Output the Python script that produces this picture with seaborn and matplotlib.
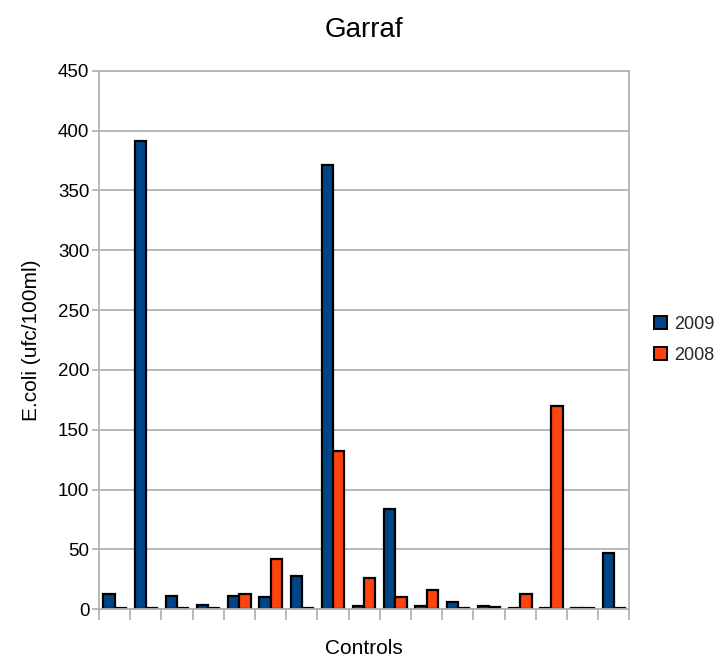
import matplotlib
matplotlib.use("Agg")
import matplotlib.pyplot as plt
import seaborn as sns
import pandas as pd
import numpy as np

categories = [str(i) for i in range(1, 18)]
values_2009 = [13, 391, 11, 4, 11, 10, 28, 371, 3, 84, 3, 6, 3, 1, 1, 1, 47]
values_2008 = [1, 1, 1, 1, 13, 42, 1, 132, 26, 10, 16, 1, 2, 13, 170, 1, 1]
series = ["2009", "2008"]
colors = ["#004586", "#ff420e"]
y_ticks = [0, 50, 100, 150, 200, 250, 300, 350, 400, 450]

df = pd.DataFrame({
    "Control": categories * 2,
    "Year": ["2009"] * len(categories) + ["2008"] * len(categories),
    "Value": values_2009 + values_2008,
})

sns.set_theme(style="white")
plt.rcParams['font.family'] = ['Liberation Sans', 'DejaVu Sans']

fig = plt.figure(figsize=(7.2, 6.6), dpi=100)
ax = fig.add_axes([0.1375, 0.0768, 0.8743 - 0.1375, 0.8929 - 0.0768])

sns.barplot(data=df, x="Control", y="Value", hue="Year", hue_order=series,
            order=categories, palette=colors, width=0.72, edgecolor="black",
            linewidth=1.6, saturation=1, errorbar=None, ax=ax)

grid_c = "#b3b3b3"
ax.set_axisbelow(True)
ax.set_ylim(0, 450)
ax.set_yticks(y_ticks)
ax.yaxis.grid(True, color=grid_c, linewidth=1.3)
ax.xaxis.grid(False)
ax.set_xlim(-0.5, len(categories) - 0.5)
ax.set_xticks(np.arange(-0.5, len(categories), 1.0))
ax.set_xticklabels([])
for s in ax.spines.values():
    s.set_color(grid_c)
    s.set_linewidth(1.3)
ax.tick_params(axis="x", which="both", bottom=True, length=8, width=1.3, color=grid_c)
ax.tick_params(axis="y", which="both", left=True, length=5, width=1.3, color=grid_c,
               labelsize=13.5, pad=2, labelcolor="black")

ax.set_xlabel("Controls", fontsize=15, color="black", labelpad=10)
ax.set_ylabel("E.coli (ufc/100ml)", fontsize=15, color="black", labelpad=12)
ax.set_title("Garraf", fontsize=20, color="black", pad=24)

handles, labels = ax.get_legend_handles_labels()
if ax.get_legend() is not None:
    ax.get_legend().remove()
leg = fig.legend(handles, labels, loc="center left", bbox_to_anchor=(0.898, 0.485),
                 frameon=False, fontsize=13, handlelength=0.75, handleheight=0.75,
                 handletextpad=0.4, labelspacing=0.8, borderaxespad=0)
for h in leg.legend_handles:
    h.set_edgecolor("black")
    h.set_linewidth(1.4)

fig.savefig("out.png", dpi=100)
